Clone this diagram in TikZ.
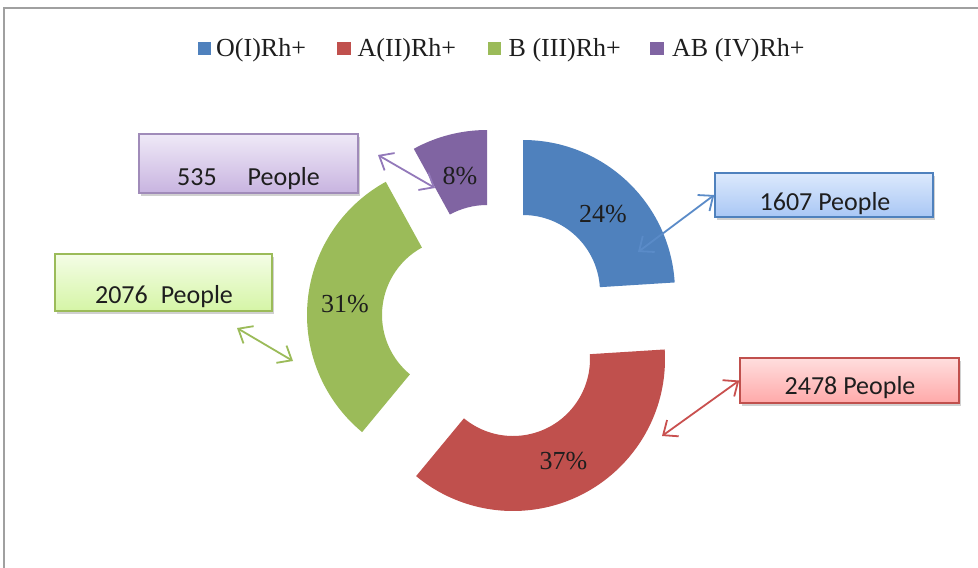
\documentclass[tikz,border=0pt]{standalone}
\usepackage{fontspec}
\setmainfont{Liberation Serif}
\newfontfamily\boxfont{Carlito}
\usetikzlibrary{arrows.meta,shadows,calc}
\definecolor{cblue}{HTML}{4F81BD}
\definecolor{cred}{HTML}{C0504D}
\definecolor{cgreen}{HTML}{9BBB59}
\definecolor{cpurple}{HTML}{8064A2}
\definecolor{framegray}{HTML}{A0A0A0}
\definecolor{txt}{HTML}{1E1E1E}
\definecolor{pTop}{RGB}{239,233,247}
\definecolor{pBot}{RGB}{200,180,224}
\definecolor{gTop}{RGB}{244,253,230}
\definecolor{gBot}{RGB}{213,245,166}
\definecolor{bTop}{RGB}{220,233,252}
\definecolor{bBot}{RGB}{169,199,245}
\definecolor{rTop}{RGB}{255,222,222}
\definecolor{rBot}{RGB}{255,169,169}
\definecolor{aBlue}{HTML}{5A8BC8}
\definecolor{aRed}{HTML}{C9504F}
\definecolor{aGreen}{HTML}{9BBB59}
\definecolor{aPurple}{HTML}{9379BA}
\tikzset{
  pct/.style={font=\fontsize{26}{30}\selectfont, text=txt, inner sep=0pt, anchor=base},
  legtext/.style={font=\fontsize{26}{30}\selectfont, text=txt, inner sep=0pt, anchor=base west},
  legsq/.style={minimum size=13.5pt, inner sep=0pt},
  valbox/.style={line width=1.5pt, inner sep=0pt,
     drop shadow={shadow xshift=2pt, shadow yshift=-3pt, opacity=0.3, fill=black!60}},
  valtext/.style={font=\boxfont\fontsize{26}{30}\selectfont, text=txt, inner sep=0pt, anchor=base},
  dbl/.style={line width=1.8pt, {Straight Barb[length=12pt,width=20pt]}-{Straight Barb[length=12pt,width=20pt]}}
}
\begin{document}
\begin{tikzpicture}[x=1pt,y=1pt]
\useasboundingbox (0,0) rectangle (978,-568);
\fill[white] (0,0) rectangle (978,-568);
\draw[framegray, line width=1.5pt] (4,-568) -- (4,-8) -- (978,-8);

% legend
\node[legsq, fill=cblue] (lq1) at (204.3,-48.3) {};
\node[legtext] (lt1) at (216,-56.5) {O(I)Rh+};
\node[legsq, fill=cred] (lq2) at (344,-48.3) {};
\node[legtext] (lt2) at (357.5,-56.5) {A(II)Rh+};
\node[legsq, fill=cgreen] (lq3) at (494.5,-48.3) {};
\node[legtext] (lt3) at (508.5,-56.5) {B (III)Rh+};
\node[legsq, fill=cpurple] (lq4) at (657,-48.3) {};
\node[legtext] (lt4) at (672,-56.5) {AB (IV)Rh+};

% donut segments
\coordinate (cb) at (523,-292);
\coordinate (cr) at (513,-359);
\coordinate (cg) at (459,-315);
\coordinate (cp) at (487,-282);
\fill[cblue] (cb) ++(90:152) arc[start angle=90,end angle=3.6,radius=152]
  -- ($(cb)+(3.6:77)$) arc[start angle=3.6,end angle=90,radius=77] -- cycle;
\fill[cred] (cr) ++(3.6:152) arc[start angle=3.6,end angle=-129.6,radius=152]
  -- ($(cr)+(-129.6:77)$) arc[start angle=-129.6,end angle=3.6,radius=77] -- cycle;
\fill[cgreen] (cg) ++(-129.6:152) arc[start angle=-129.6,end angle=-241.2,radius=152]
  -- ($(cg)+(-241.2:77)$) arc[start angle=-241.2,end angle=-129.6,radius=77] -- cycle;
\fill[cpurple] (cp) ++(118.8:152) arc[start angle=118.8,end angle=90,radius=152]
  -- ($(cp)+(90:77)$) arc[start angle=90,end angle=118.8,radius=77] -- cycle;

% percentages
\node[pct] (p24) at (603,-222) {24\%};
\node[pct] (p37) at (563.5,-469) {37\%};
\node[pct] (p31) at (345,-312) {31\%};
\node[pct] (p8) at (460,-184) {8\%};

% value boxes
\node[valbox, draw=cpurple!75, minimum width=219pt, minimum height=59pt,
  top color=pTop, bottom color=pBot] (pbox) at (248.5,-163.5) {};
\node[valtext] (ptext) at (248.5,-185) {535\hspace{31pt}People};

\node[valbox, draw=cgreen, minimum width=217pt, minimum height=57pt,
  top color=gTop, bottom color=gBot] (gbox) at (163.5,-282.5) {};
\node[valtext] (gtext) at (164,-303) {2076\hspace{13pt}People};

\node[valbox, draw=cblue, minimum width=218pt, minimum height=44pt,
  top color=bTop, bottom color=bBot] (bbox) at (824,-195) {};
\node[valtext] (btext) at (825,-210) {1607 People};

\node[valbox, draw=cred, minimum width=219pt, minimum height=45pt,
  top color=rTop, bottom color=rBot] (rbox) at (849.5,-380.5) {};
\node[valtext] (rtext) at (850,-394) {2478 People};

% connectors
\coordinate (pa) at (378,-155);
\coordinate (pb) at (435,-188);
\draw[dbl, aPurple] (pa) -- (pb);
\coordinate (ga) at (237,-328);
\coordinate (gb) at (293,-361);
\draw[dbl, aGreen] (ga) -- (gb);
\coordinate (ba) at (638,-252);
\draw[dbl, aBlue] (ba) -- (bbox.west);
\coordinate (ra) at (662,-436);
\draw[dbl, aRed] (ra) -- (rbox.west);
\end{tikzpicture}
\end{document}
